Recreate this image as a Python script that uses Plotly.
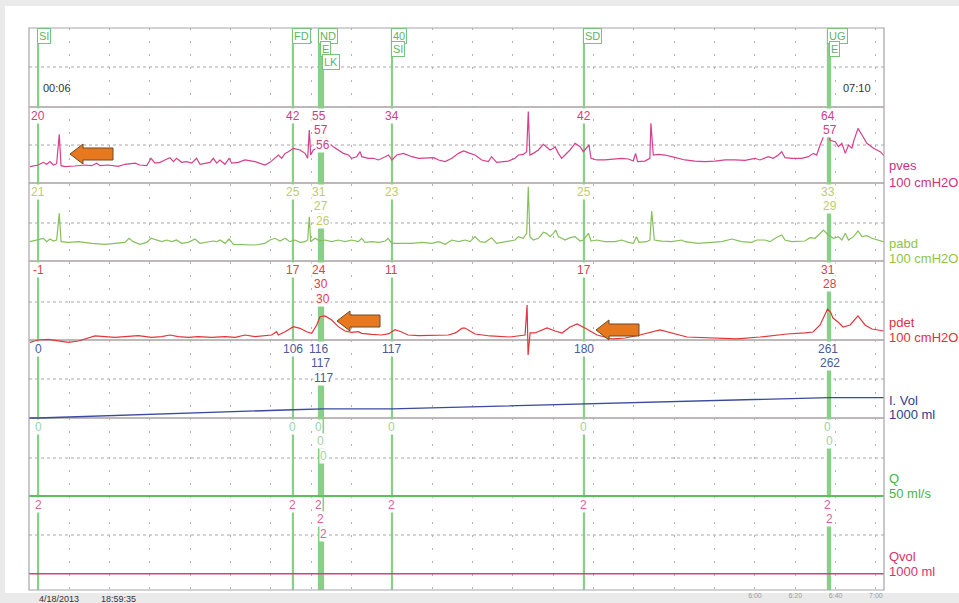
import plotly.graph_objects as go

# ---------------- data (time in s, values in channel units) ----------------
pves_t = [0.5, 4.6, 7.1, 8.8, 10.4, 12.1, 13.7, 15.0, 15.9, 17.9, 22.8, 27.8, 31.1, 33.6, 35.2, 39.3, 44.3, 47.6,
          52.6, 55.0, 58.4, 60.5, 62.5, 65.0, 67.4, 69.9, 71.6, 73.2, 75.7, 78.2, 80.7, 83.1, 84.8, 87.3, 89.8,
          91.4, 93.1, 94.7, 97.2, 99.2, 100.5, 103.8,
          107.1, 112.1, 117.0, 119.5, 122.0, 123.7, 125.3, 127.0, 128.6, 131.1, 134.4, 136.9, 138.2, 139.0, 139.7,
          141.0, 142.7, 144.3, 146.8, 149.3, 150.9, 153.4, 155.9, 158.4, 160.0, 162.5, 164.2, 165.0, 168.3, 170.8,
          173.3, 176.7, 178.3, 180.0, 182.4, 185.7, 189.9, 193.2, 197.3, 200.7, 203.1, 206.4, 209.7, 213.0, 215.5,
          216.2, 218.7, 221.2, 224.5, 227.8, 229.4, 231.9, 234.4, 237.7, 241.0, 242.7, 245.1, 246.8, 247.6, 248.4,
          250.1, 252.6, 255.1, 256.7, 258.4, 260.0, 260.9, 262.5, 264.2, 265.8, 268.3, 270.8, 273.3, 274.9, 276.1,
          277.7, 278.7, 281.5, 285.6, 290.6, 293.9, 297.2, 299.7, 300.8, 301.8, 305.4, 307.9, 308.4, 309.6, 312.1,
          315.4, 318.7, 322.0, 325.3,
          330.3, 335.2, 340.2, 345.2, 350.1, 355.1, 360.0, 362.5, 366.6, 369.1, 371.6, 373.3, 374.9, 378.2, 383.2,
          386.5, 389.0, 390.6, 392.3, 394.0, 395.6, 397.3, 399.8, 401.4, 403.1, 404.8, 406.4, 408.1, 408.9, 411.1,
          413.1, 415.5, 418.8, 422.1, 424.6]
pves_v = [21.5, 23.7, 27.2, 24.6, 28.1, 23.7, 25.4, 64.0, 22.8, 21.5, 22.4, 23.7, 22.8, 26.1, 22.8, 23.7, 21.9, 24.6,
          26.1, 23.7, 22.8, 32.5, 26.1, 27.2, 30.3, 33.3, 28.1, 32.5, 27.2, 28.1, 26.1, 32.5, 24.6, 26.1, 27.2,
          32.5, 26.1, 30.3, 24.6, 32.5, 26.1, 27.2,
          30.3, 28.1, 23.7, 27.2, 32.5, 36.8, 32.5, 39.0, 41.2, 45.6, 43.4, 39.0, 32.5, 69.7, 36.8,
          43.4, 45.6, 46.5, 50.0, 50.9, 47.8, 43.4, 39.0, 36.8, 32.5, 34.6, 41.2, 34.6, 32.5, 32.5,
          30.3, 34.6, 36.8, 30.3, 36.8, 39.0, 34.6, 32.5, 32.5, 33.3, 30.3, 28.1, 32.5, 39.0, 42.1,
          41.2, 39.0, 36.8, 30.3, 28.1, 34.6, 27.2, 28.1, 28.9, 32.5, 36.8, 37.7, 41.2, 93.9, 36.8,
          39.0, 43.4, 50.9, 47.8, 43.4, 45.6, 47.8, 39.0, 32.5, 36.8, 43.4, 52.2, 47.8, 41.2, 45.6,
          50.0, 32.5, 30.3, 30.3, 31.1, 32.5, 31.6, 28.9, 39.0, 28.1, 28.9, 32.5, 78.5, 36.8, 37.7,
          36.8, 34.6, 32.5, 30.3,
          28.9, 28.1, 28.9, 30.3, 30.3, 29.8, 32.5, 30.3, 34.6, 32.5, 36.8, 41.2, 33.3, 32.5, 32.5,
          34.6, 39.0, 36.8, 50.0, 60.9, 67.5, 56.1, 54.4, 47.8, 52.2, 39.0, 50.0, 45.6, 54.4, 71.9,
          63.2, 52.2, 45.6, 41.2, 34.6]

pabd_t = [0.5, 4.6, 7.1, 8.8, 10.4, 12.1, 13.7, 15.0, 15.9, 19.5, 24.5, 31.1, 37.7, 42.6, 47.6, 49.6, 51.7, 55.0,
          58.4, 60.5, 63.3, 65.8, 68.3, 70.8, 73.2, 75.7, 79.0, 82.3, 84.8, 88.1, 91.4, 93.1, 94.7, 97.2, 99.2,
          101.4, 105.5,
          107.1, 112.1, 117.0, 119.5, 122.0, 124.5, 127.0, 129.4, 131.9, 134.4, 136.9, 138.2, 139.0, 139.7, 141.8,
          144.3, 146.8, 150.1, 153.4, 156.7, 160.0, 163.3, 165.0, 166.6, 169.9, 173.3, 176.7, 178.0, 180.0, 184.9,
          189.9, 194.9, 199.8, 203.1, 206.4, 209.7, 213.0, 216.3,
          218.7, 221.2, 223.7, 226.1, 229.4, 231.9, 236.0, 241.0, 242.7, 245.1, 246.8, 247.6, 248.4, 250.1, 252.6,
          255.1, 256.7, 258.4, 260.0, 261.2, 262.5, 265.8, 268.3, 270.8, 273.3, 274.9, 277.4, 278.7, 281.5, 285.6,
          290.6, 293.9, 297.2, 299.7, 301.3, 302.5, 306.3, 307.9, 308.8, 310.1, 313.7, 318.7, 323.7,
          325.3, 331.9, 338.5, 343.5, 348.5, 353.4, 358.4, 360.9, 365.0, 367.5, 370.0, 373.3, 374.9, 378.2, 384.8,
          387.3, 389.8, 392.3, 394.0, 396.4, 398.9, 401.4, 403.1, 404.8, 406.4, 408.9, 411.1, 413.1, 415.5, 418.0,
          421.3, 424.6]
pabd_v = [24.8, 26.9, 29.1, 24.8, 28.2, 25.6, 26.9, 61.1, 24.8, 23.9, 24.8, 22.6, 21.4, 22.6, 23.9, 29.1, 24.8, 21.4,
          23.9, 29.1, 26.9, 24.8, 26.9, 24.8, 26.9, 22.6, 23.9, 28.2, 22.6, 23.9, 25.6, 24.8, 26.9, 22.6, 28.2,
          21.4, 21.4,
          21.4, 20.5, 22.6, 26.9, 29.1, 25.6, 29.1, 24.8, 26.9, 23.9, 24.8, 26.9, 56.8, 24.8, 29.1,
          25.6, 26.9, 24.8, 26.9, 24.8, 26.9, 24.8, 29.1, 23.9, 24.8, 23.9, 25.6, 29.1, 22.6, 22.6,
          22.6, 23.9, 22.6, 24.8, 21.4, 26.9, 24.8, 26.9,
          24.8, 31.2, 24.8, 23.9, 29.9, 22.6, 24.8, 26.9, 31.2, 29.1, 35.5, 95.3, 31.2, 26.9, 29.1,
          36.8, 35.5, 31.2, 35.5, 39.7, 31.2, 26.9, 29.9, 31.2, 25.6, 26.9, 35.5, 25.6, 26.9, 24.8,
          24.8, 26.9, 23.9, 22.6, 31.2, 23.9, 24.8, 26.9, 64.1, 26.9, 25.6, 24.8, 26.9,
          24.8, 22.6, 23.9, 24.8, 28.2, 24.8, 23.9, 26.9, 26.9, 24.8, 29.1, 33.3, 26.9, 24.8, 25.6,
          29.9, 29.1, 35.5, 39.7, 33.3, 29.1, 31.2, 26.9, 35.5, 26.9, 31.2, 38.5, 31.2, 32.5, 29.1,
          26.9, 23.9]

pdet_t = [0.5, 4.6, 9.6, 14.5, 19.5, 24.5, 29.4, 32.7, 37.7, 42.6, 47.6, 54.2, 60.8, 65.8, 69.9, 74.0, 79.0, 84.0,
          90.6, 97.2, 102.3,
          107.1, 112.1, 117.0, 120.3, 122.8, 123.7, 127.0, 131.1, 134.4, 137.7, 140.2, 142.7, 144.3, 146.8, 150.1,
          153.4, 156.7, 160.0, 163.3, 165.0, 169.9, 174.9, 178.5, 181.5, 184.5, 188.0, 193.2, 198.1, 203.1, 208.0,
          211.5, 214.8,
          216.2, 221.2, 228.6, 238.5, 246.0, 247.0, 247.5, 248.5, 250.9, 256.9, 260.9, 264.3, 268.3, 271.8, 275.7,
          281.7, 289.6, 295.6, 302.9, 312.9, 326.3, 337.7, 351.1, 362.5, 375.9, 384.8, 388.8, 392.3, 396.0, 397.5,
          398.7, 401.2, 403.7, 407.2, 411.1, 414.6, 418.0, 424.0]
pdet_v = [-3.0, 0.0, 0.8, -1.3, -3.0, -1.3, 2.1, 5.1, 4.2, 3.4, 4.2, 5.5, 3.4, 4.2, 6.3, 4.2, 3.4, 4.2,
          3.4, 4.2, 3.4,
          6.3, 4.2, 5.5, 6.3, 10.5, 6.3, 10.5, 16.9, 14.8, 10.5, 8.4, 19.0, 29.5, 30.4, 25.3,
          16.9, 11.4, 9.7, 10.5, 8.4, 7.2, 6.3, 8.0, 13.0, 10.5, 6.3, 5.5, 5.5, 5.5, 6.3,
          9.0, 15.0,
          15.2, 7.6, 5.1, 3.8, 6.3, 44.3, -19.0, 8.9, 8.9, 15.2, 11.4, 8.9, 16.5, 20.3, 15.2,
          6.3, 1.3, 2.5, 6.3, 12.7, 3.8, 2.5, 1.3, 3.8, 7.6, 8.9, 10.1, 19.0, 39.2, 35.4,
          27.8, 22.8, 16.5, 19.0, 30.4, 19.0, 13.9, 11.4]

ivol_t = [0.0, 4.5, 130.9, 143.8, 145.8, 180.0, 275.2, 396.2, 397.2, 424.0]
ivol_v = [0, 0, 106, 116, 117, 117, 180, 261, 262, 262]

q_t = [0.0, 424.0]
q_v = [0, 0]

qvol_t = [0.0, 424.0]
qvol_v = [2, 2]

# events
event_t = [4.5, 130.9, 143.8, 144.8, 145.8, 180.0, 275.2, 396.2, 397.2]
event_row = [0, 0, 0, 1, 2, 0, 0, 0, 1]
marker_t = [4.5, 130.9, 143.8, 144.8, 145.8, 180.0, 180.0, 275.2, 396.2, 397.2]
marker_text = ["SI", "FD", "ND", "E", "LK", "40", "SI", "SD", "UG", "E"]
marker_row = [0, 0, 0, 1, 2, 0, 1, 0, 0, 1]

pves_lbl = [20, 42, 55, 57, 56, 34, 42, 64, 57]
pabd_lbl = [21, 25, 31, 27, 26, 23, 25, 33, 29]
pdet_lbl = [-1, 17, 24, 30, 30, 11, 17, 31, 28]
ivol_lbl = [0, 106, 116, 117, 117, 117, 180, 261, 262]
q_lbl = [0, 0, 0, 0, 0, 0, 0, 0, 0]
qvol_lbl = [2, 2, 2, 2, 2, 2, 2, 2, 2]

tick_vals = list(range(20, 421, 20))
tick_text = [""] * 17 + ["6:00", "6:20", "6:40", "7:00"]

# ---------------- layout geometry ----------------
W, H = 959, 603
L, R, T, B = 29, 884, 28, 590
H_RENDER = 611            # page height used by the viewer; reference y positions are scaled to it
SY = H_RENDER / H
X_RANGE = [0, 424]
FONT = "Liberation Sans, Arial, sans-serif"


def px2paper(px):
    return (px - L) / (R - L)


def py2paper(py):
    return (B - py) / (B - T)


channels = [
    dict(name="pves", unit="100 cmH2O", t=pves_t, v=pves_v, lbl=pves_lbl, top=107, bot=183, full=100,
         color="#d63f8c", lcolor="#d0407f", ncolor="#d0307f", w=1.2, name_y=(165, 182)),
    dict(name="pabd", unit="100 cmH2O", t=pabd_t, v=pabd_v, lbl=pabd_lbl, top=183, bot=261, full=100,
         color="#86c05a", lcolor="#bccd6a", ncolor="#8cc63f", w=1.2, name_y=(243, 258)),
    dict(name="pdet", unit="100 cmH2O", t=pdet_t, v=pdet_v, lbl=pdet_lbl, top=261, bot=340, full=100,
         color="#e0353a", lcolor="#e04048", ncolor="#e0303a", w=1.2, name_y=(322, 337)),
    dict(name="I. Vol", unit="1000 ml", t=ivol_t, v=ivol_v, lbl=ivol_lbl, top=340, bot=418, full=1000,
         color="#3b4a9c", lcolor="#4a5a9a", ncolor="#2e3d8f", w=1.3, name_y=(400, 415)),
    dict(name="Q", unit="50 ml/s", t=q_t, v=q_v, lbl=q_lbl, top=418, bot=496, full=50,
         color="#5cbf60", lcolor="#9fd49f", ncolor="#4caf50", w=2.2, name_y=(478, 493)),
    dict(name="Qvol", unit="1000 ml", t=qvol_t, v=qvol_v, lbl=qvol_lbl, top=496, bot=574, full=1000,
         color="#d8407a", lcolor="#e060a0", ncolor="#d6336c", w=1.5, name_y=(556, 571)),
]

fig = go.Figure()
layout_axes = {}
annotations = []
shapes = []

# white sheet
shapes.append(dict(type="rect", xref="paper", yref="paper", x0=px2paper(5), x1=px2paper(965),
                   y0=py2paper(593), y1=py2paper(6), fillcolor="white", line=dict(width=0), layer="below"))

for i, ch in enumerate(channels):
    k = (ch["bot"] - ch["top"]) / ch["full"]
    rng = [(ch["bot"] - B) / k, (ch["bot"] - T) / k]
    axname = "yaxis" if i == 0 else "yaxis%d" % (i + 1)
    ref = "y" if i == 0 else "y%d" % (i + 1)
    ax = dict(range=rng, visible=False, fixedrange=True, domain=[0, 1])
    if i > 0:
        ax["overlaying"] = "y"
    layout_axes[axname] = ax
    fig.add_trace(go.Scatter(x=ch["t"], y=ch["v"], yaxis=ref, mode="lines",
                             line=dict(color=ch["color"], width=ch["w"]), hoverinfo="skip",
                             showlegend=False))
    # value labels at events
    for et, row, val in zip(event_t, event_row, ch["lbl"]):
        annotations.append(dict(x=et, xref="x", y=py2paper(ch["top"] + 9 + 14.3 * row), yref="paper",
                                text=str(val), showarrow=False, xanchor="center", yanchor="middle",
                                bgcolor="white", borderpad=0,
                                font=dict(family=FONT, size=12, color=ch["lcolor"])))
    # channel names on right
    annotations.append(dict(x=px2paper(887), xref="paper", y=py2paper(ch["name_y"][0]), yref="paper",
                            text=ch["name"], showarrow=False, xanchor="left", yanchor="middle",
                            font=dict(family=FONT, size=13, color=ch["ncolor"])))
    annotations.append(dict(x=px2paper(887), xref="paper", y=py2paper(ch["name_y"][1]), yref="paper",
                            text=ch["unit"], showarrow=False, xanchor="left", yanchor="middle",
                            font=dict(family=FONT, size=13, color=ch["ncolor"])))

# panel separators and dotted mid lines
for py in [107, 183, 261, 340, 418, 496]:
    shapes.append(dict(type="line", xref="paper", yref="paper", x0=0, x1=1, y0=py2paper(py), y1=py2paper(py),
                       line=dict(color="#a9a1a1", width=1.3), layer="below"))
for py in [67, 145, 223, 302, 379, 458, 535]:
    shapes.append(dict(type="line", xref="paper", yref="paper", x0=0, x1=1, y0=py2paper(py), y1=py2paper(py),
                       line=dict(color="#a8a8a8", width=1, dash="dot"), layer="below"))

# event lines
for et in sorted(set(event_t)):
    shapes.append(dict(type="line", xref="x", yref="paper", x0=et, x1=et, y0=0, y1=1,
                       line=dict(color="#88d088", width=2.2), layer="below"))

# frame
shapes.append(dict(type="rect", xref="paper", yref="paper", x0=0, x1=1, y0=0, y1=1,
                   line=dict(color="#a8a2b0", width=1.2), layer="above"))

# orange arrows (annotation marks pointing at features)


def arrow(px, py):
    pts = [(px, py), (px + 13, py - 10), (px + 13, py - 6), (px + 43, py - 6), (px + 43, py + 6),
           (px + 13, py + 6), (px + 13, py + 10)]
    path = "M " + " L ".join("%.5f,%.5f" % (px2paper(a), py2paper(b)) for a, b in pts) + " Z"
    return dict(type="path", xref="paper", yref="paper", path=path, fillcolor="#e8781e",
                line=dict(color="#6a4a2a", width=1), layer="above")


for ax_, ay_ in [(70, 154), (337, 321), (596, 330)]:
    shapes.append(arrow(ax_, ay_))

# event marker boxes on top
for mt, txt, row in zip(marker_t, marker_text, marker_row):
    annotations.append(dict(x=mt, xref="x", y=py2paper(T + 13.2 * row), yref="paper", text=txt,
                            showarrow=False, xanchor="left", yanchor="top", xshift=-1,
                            bgcolor="white", bordercolor="#79c279", borderwidth=1, borderpad=1,
                            font=dict(family=FONT, size=11, color="#63b363")))

# cursor times
annotations.append(dict(x=px2paper(41), xref="paper", y=py2paper(88), yref="paper", text="00:06",
                        showarrow=False, xanchor="left", yanchor="middle",
                        font=dict(family=FONT, size=11, color="#333333")))
annotations.append(dict(x=px2paper(873), xref="paper", y=py2paper(88), yref="paper", text="07:10",
                        showarrow=False, xanchor="right", yanchor="middle",
                        font=dict(family=FONT, size=11, color="#333333")))
# date / time footer
annotations.append(dict(x=px2paper(37), xref="paper", y=py2paper(599), yref="paper", text="4/18/2013",
                        showarrow=False, xanchor="left", yanchor="middle",
                        font=dict(family=FONT, size=9, color="#333333")))
annotations.append(dict(x=px2paper(99), xref="paper", y=py2paper(599), yref="paper", text="18:59:35",
                        showarrow=False, xanchor="left", yanchor="middle",
                        font=dict(family=FONT, size=9, color="#333333")))

fig.update_layout(
    width=W, height=H_RENDER, autosize=False,
    margin=dict(l=L, r=W - R, t=T * SY, b=(H - B) * SY, pad=0),
    paper_bgcolor="#eaeaea",
    plot_bgcolor="rgba(0,0,0,0)",
    showlegend=False,
    xaxis=dict(range=X_RANGE, tickvals=tick_vals, ticktext=tick_text, showgrid=True,
               gridcolor="#b3b3b3", gridwidth=1, griddash="2px,11px", zeroline=False, showline=False,
               ticks="", tickfont=dict(family=FONT, size=7, color="#9a9a9a"), fixedrange=True),
    shapes=shapes,
    annotations=annotations,
    **layout_axes,
)

page_fix = (
    "var d=document.documentElement,b=document.body;"
    "d.style.margin='0';d.style.padding='0';d.style.overflow='hidden';"
    "b.style.margin='0';b.style.padding='0';b.style.overflow='hidden';"
    "b.style.background='#eaeaea';"
)

fig.write_html(
    "out.html",
    config={"displayModeBar": False, "responsive": False},
    post_script=page_fix,
)
